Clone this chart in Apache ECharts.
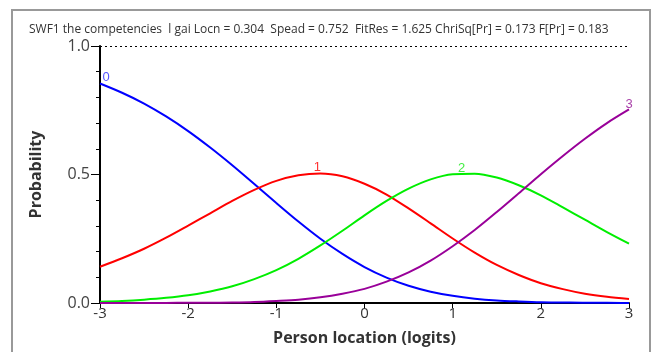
<!DOCTYPE html>
<html><head><meta charset="utf-8">
<script src="https://cdn.jsdelivr.net/npm/echarts@6/dist/echarts.min.js"></script>
<style>html,body{margin:0;padding:0;background:#fff}#c{width:660px;height:352px}</style>
</head><body><div id="c"></div>
<script>
var titleText = 'SWF1 the competencies  l gai Locn = 0.304  Spead = 0.752  FitRes = 1.625 ChriSq[Pr] = 0.173 F[Pr] = 0.183';
var xs = [-3,-2.75,-2.5,-2.25,-2,-1.75,-1.5,-1.25,-1,-0.75,-0.5,-0.25,0,0.25,0.5,0.75,1,1.25,1.5,1.75,2,2.25,2.5,2.75,3];
var p0 = [0.854,0.818,0.776,0.726,0.669,0.605,0.536,0.463,0.389,0.317,0.250,0.191,0.140,0.099,0.067,0.044,0.028,0.017,0.010,0.006,0.003,0.002,0.001,0.001,0.000];
var p1 = [0.141,0.174,0.211,0.254,0.301,0.349,0.397,0.440,0.475,0.497,0.504,0.493,0.464,0.422,0.368,0.310,0.251,0.196,0.148,0.109,0.077,0.054,0.036,0.024,0.016];
var p2 = [0.005,0.008,0.013,0.020,0.030,0.045,0.065,0.093,0.128,0.172,0.224,0.281,0.341,0.397,0.445,0.481,0.501,0.503,0.488,0.458,0.419,0.372,0.324,0.276,0.231];
var p3 = [0.000,0.000,0.000,0.000,0.001,0.001,0.002,0.004,0.008,0.013,0.022,0.036,0.055,0.083,0.119,0.165,0.221,0.284,0.354,0.427,0.501,0.572,0.639,0.700,0.753];
var catNames = ['0','1','2','3'];
var catColors = ['#0000ff','#ff0000','#00ee00','#990099'];
var labelColors = ['#5555ff','#ff3333','#44ee44','#aa44aa'];
var labelIdx = [0, 10, 17, 24];
var labelOffset = [[6,4],[-3,4],[-13,5],[0,5]];

var chart = echarts.init(document.getElementById('c'), null, {renderer:'canvas'});
var series = [p0,p1,p2,p3].map(function(vals,k){
  return {type:'line', data:vals.map(function(v,i){return [xs[i], v];}), symbol:'none', smooth:0.3,
    lineStyle:{color:catColors[k], width:2}, itemStyle:{color:catColors[k]}, z:3+k,
    markPoint:{silent:true, symbol:'circle', symbolSize:1, itemStyle:{color:'rgba(0,0,0,0)'},
      data:[{coord:[xs[labelIdx[k]], vals[labelIdx[k]]],
        label:{show:true, formatter:catNames[k], position:'top', distance:3, offset:labelOffset[k],
          color:labelColors[k], fontSize:13, fontFamily:'Liberation Sans'}}]}};
});
series[0].markLine = {silent:true, symbol:'none', label:{show:false},
  lineStyle:{color:'#000', type:[2,3], width:1}, data:[{yAxis:1}]};

chart.setOption({
  animation:false,
  graphic:[{type:'rect', shape:{x:12,y:10,width:638,height:360}, style:{fill:'none', stroke:'#999', lineWidth:2}, z:-1}],
  title:{text:titleText, left:24, top:19, textStyle:{fontSize:12, fontWeight:'normal', color:'#333', fontFamily:'Open Sans'}},
  grid:{left:100, right:31, top:46, bottom:49},
  xAxis:{type:'value', min:-3, max:3, interval:1,
    name:'Person location (logits)', nameLocation:'middle', nameGap:27,
    nameTextStyle:{fontSize:16, fontWeight:'bold', color:'#333', fontFamily:'Open Sans'},
    axisLine:{onZero:false, lineStyle:{color:'#000', width:2}},
    axisTick:{show:true, length:5, lineStyle:{color:'#000', width:1}},
    axisLabel:{fontSize:15, color:'#333', margin:3, fontFamily:'Open Sans'},
    splitLine:{show:false}},
  yAxis:{type:'value', min:0, max:1, interval:0.5,
    name:'Probability', nameLocation:'middle', nameGap:56,
    nameTextStyle:{fontSize:16, fontWeight:'bold', color:'#333', fontFamily:'Open Sans'},
    axisLine:{show:true, onZero:false, lineStyle:{color:'#000', width:2}},
    axisTick:{show:true, length:9, lineStyle:{color:'#000', width:1}},
    minorTick:{show:true, splitNumber:5, length:4, lineStyle:{color:'#000', width:1}},
    axisLabel:{fontSize:16, color:'#444', margin:10, fontFamily:'Open Sans',
      formatter:function(v){return v.toFixed(1);}},
    splitLine:{show:false}},
  series:series
});
</script></body></html>
